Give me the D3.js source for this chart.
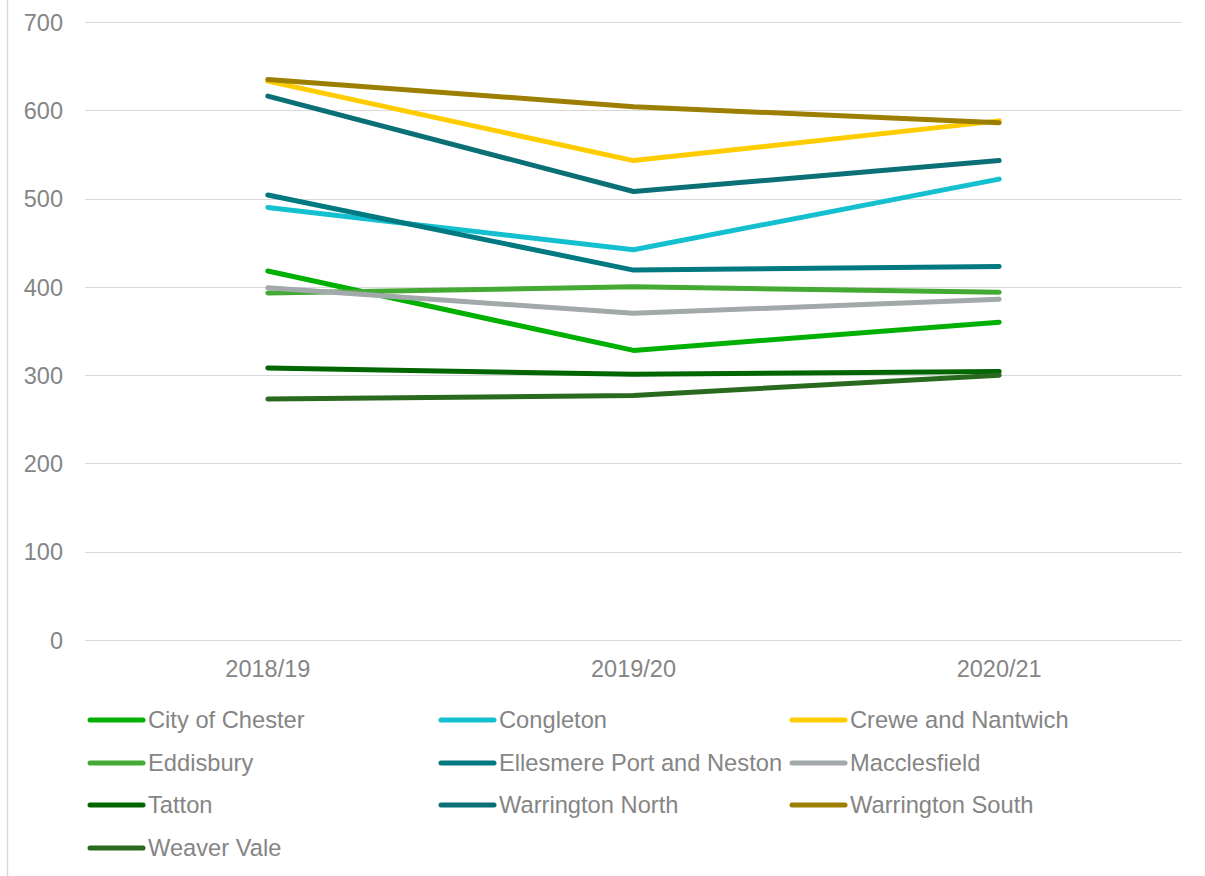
<!DOCTYPE html>
<html>
<head>
<meta charset="utf-8">
<script src="https://cdn.jsdelivr.net/npm/d3@7"></script>
<style>
  body { margin: 0; background: #fff; }
  svg text { font-family: "Liberation Sans", Arial, sans-serif; fill: #858585; }
</style>
</head>
<body>
<div id="chart"></div>
<script>
const years = ["2018/19", "2019/20", "2020/21"];
const yTicks = [0, 100, 200, 300, 400, 500, 600, 700];

const seriesNames = [
  "City of Chester", "Congleton", "Crewe and Nantwich",
  "Eddisbury", "Ellesmere Port and Neston", "Macclesfield",
  "Tatton", "Warrington North", "Warrington South",
  "Weaver Vale"
];
const cityOfChester = [418, 328, 360];
const congleton = [490, 442, 522];
const creweNantwich = [633, 543, 588];
const eddisbury = [393, 400, 394];
const ellesmerePort = [504, 419, 423];
const macclesfield = [399, 370, 386];
const tatton = [308, 301, 304];
const warringtonNorth = [616, 508, 543];
const warringtonSouth = [635, 604, 586];
const weaverVale = [273, 277, 300];

const colors = ["#00b000", "#14c0d0", "#ffcc00", "#44aa33", "#007a80",
  "#a2a9ab", "#006600", "#0b7075", "#9c7e00", "#2a6a1e"];

const allValues = [cityOfChester, congleton, creweNantwich, eddisbury, ellesmerePort,
  macclesfield, tatton, warringtonNorth, warringtonSouth, weaverVale];

const series = seriesNames.map((name, i) => ({ name, color: colors[i], values: allValues[i] }));

const W = 1205, H = 876;
const svg = d3.select("#chart").append("svg").attr("width", W).attr("height", H);

// chart border on the left
svg.append("line").attr("x1", 7.5).attr("x2", 7.5).attr("y1", 0).attr("y2", H)
  .attr("stroke", "#d9d9d9").attr("stroke-width", 1.5);

const x = d3.scaleBand().domain(years).range([85, 1182]);
const cx = d => x(d) + x.bandwidth() / 2;
const y = d3.scaleLinear().domain([0, 700]).range([640, 22]);

// grid
svg.append("g").selectAll("line").data(yTicks).join("line")
  .attr("x1", 85).attr("x2", 1182)
  .attr("y1", d => Math.round(y(d)) + 0.5).attr("y2", d => Math.round(y(d)) + 0.5)
  .attr("stroke", "#d9d9d9").attr("stroke-width", 1);

const yAxis = svg.append("g").attr("transform", "translate(63,0)")
  .call(d3.axisLeft(y).tickValues(yTicks).tickSize(0).tickPadding(0));
yAxis.select(".domain").remove();
yAxis.selectAll("text").attr("font-size", 23.5).attr("dy", "0.35em")
  .style("font-family", "Liberation Sans, Arial, sans-serif").attr("fill", "#858585");

const xAxis = svg.append("g").attr("transform", "translate(0,640)")
  .call(d3.axisBottom(x).tickSize(0).tickPadding(20));
xAxis.select(".domain").remove();
xAxis.selectAll("text").attr("font-size", 23.5)
  .style("font-family", "Liberation Sans, Arial, sans-serif").attr("fill", "#858585");

const line = d3.line().x((d, i) => cx(years[i])).y(d => y(d));

svg.append("g").selectAll("path").data(series).join("path")
  .attr("d", d => line(d.values))
  .attr("fill", "none").attr("stroke", d => d.color)
  .attr("stroke-width", 5).attr("stroke-linecap", "round").attr("stroke-linejoin", "round");

// legend
const colX = [90, 441, 792];
const rowY = [720, 763, 805, 848];
const leg = svg.append("g").selectAll("g").data(series).join("g")
  .attr("transform", (d, i) => `translate(${colX[i % 3]},${rowY[Math.floor(i / 3)]})`);
leg.append("line").attr("x1", 0).attr("x2", 53).attr("y1", 0).attr("y2", 0)
  .attr("stroke", d => d.color).attr("stroke-width", 5).attr("stroke-linecap", "round");
leg.append("text").attr("x", 58).attr("dy", "0.35em").attr("font-size", 23.7)
  .text(d => d.name);
</script>
</body>
</html>
